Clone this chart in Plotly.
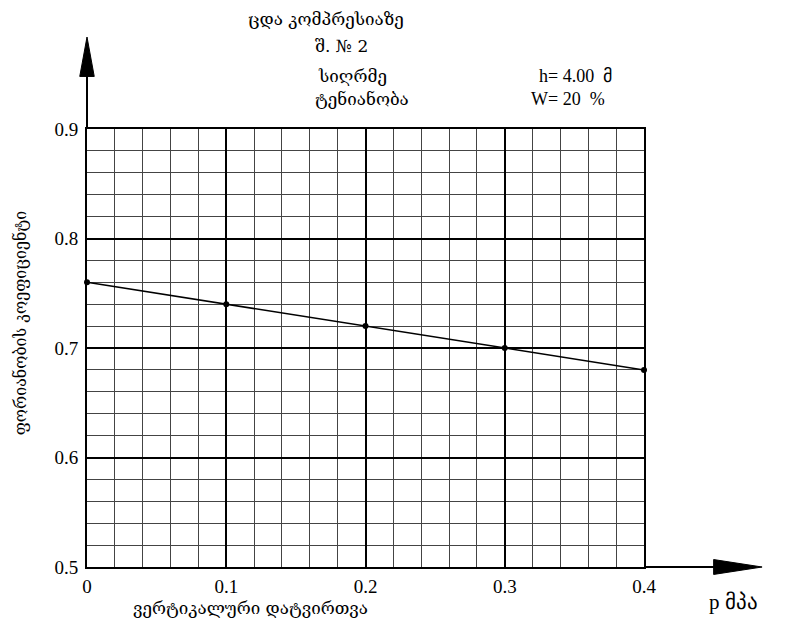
import plotly.graph_objects as go

# compression test: vertical load p (MPa) -> porosity coefficient e
load_mpa = [0.0, 0.1, 0.2, 0.3, 0.4]
porosity = [0.76, 0.74, 0.72, 0.70, 0.68]

x_ticks = [0, 0.1, 0.2, 0.3, 0.4]
x_tick_text = ["0", "0.1", "0.2", "0.3", "0.4"]
y_ticks = [0.5, 0.6, 0.7, 0.8, 0.9]
y_tick_text = ["0.5", "0.6", "0.7", "0.8", "0.9"]

TITLE = "ცდა კომპრესიაზე"
PIT = "შ. № 2"
DEPTH_LABEL, DEPTH_VAL = "სიღრმე", "h= 4.00  მ"
MOIST_LABEL, MOIST_VAL = "ტენიანობა", "W= 20  %"
Y_TITLE = "ფორიანობის კოეფიციენტი"
X_TITLE = "ვერტიკალური დატვირთვა"
X_UNIT = "p მპა"

SERIF = "Liberation Serif, Times New Roman, serif"
GEO = "DejaVu Serif, DejaVu Sans, serif"

fig = go.Figure()
fig.add_trace(go.Scatter(
    x=load_mpa, y=porosity, mode="lines+markers",
    line=dict(color="black", width=1.5),
    marker=dict(size=6, color="black"),
    cliponaxis=False, showlegend=False,
))

axis_common = dict(
    showgrid=True, gridcolor="black", gridwidth=2,
    showline=True, linecolor="black", linewidth=2, mirror=True,
    zeroline=False, ticks="",
    tickfont=dict(family=SERIF, size=19, color="black"),
    minor=dict(dtick=0.02, showgrid=True, gridcolor="#444", gridwidth=1),
)
fig.update_xaxes(range=[0, 0.4], tickvals=x_ticks, ticktext=x_tick_text,
                 ticklabelstandoff=1, **axis_common)
fig.update_yaxes(range=[0.5, 0.9], tickvals=y_ticks, ticktext=y_tick_text,
                 ticklabelstandoff=3, **axis_common)

# axis arrows (paper coords, beyond the plot area)
fig.add_shape(type="line", xref="paper", yref="paper", x0=0, y0=1, x1=0, y1=1.15,
              line=dict(color="black", width=2))
fig.add_shape(type="path", xref="paper", yref="paper",
              path="M -0.013 1.12 L 0 1.21 L 0.013 1.12 Z",
              fillcolor="black", line=dict(color="black", width=1))
fig.add_shape(type="line", xref="paper", yref="paper", x0=1, y0=0, x1=1.16, y1=0,
              line=dict(color="black", width=2))
fig.add_shape(type="path", xref="paper", yref="paper",
              path="M 1.125 -0.017 L 1.212 0 L 1.125 0.017 Z",
              fillcolor="black", line=dict(color="black", width=1))

def note(text, x, y, size, family=GEO, xanchor="left", **kw):
    fig.add_annotation(text=text, x=x, y=y, xref="paper", yref="paper",
                       showarrow=False, xanchor=xanchor, yanchor="middle",
                       font=dict(family=family, size=size, color="black"), **kw)

note(TITLE, 0.4286, 1.251, 17, xanchor="center")
note(PIT, 0.405, 1.189, 17)
note(DEPTH_LABEL, 0.412, 1.121, 17)
note(DEPTH_VAL, 0.808, 1.121, 18, family=SERIF)
note(MOIST_LABEL, 0.405, 1.068, 17)
note(MOIST_VAL, 0.793, 1.068, 18, family=SERIF)
note(Y_TITLE, -0.12, 0.557, 16, xanchor="center", textangle=-90)
note(X_TITLE, 0.294, -0.094, 17, xanchor="center")
note(X_UNIT, 1.113, -0.08, 21, family=SERIF)

# page body adds ~7px offset, so the figure is trimmed to fit the window
fig.update_layout(
    width=801, height=621, autosize=False,
    margin=dict(l=79, r=165, t=121, b=62),
    font=dict(family=SERIF, color="black"),
    plot_bgcolor="white", paper_bgcolor="white",
    showlegend=False,
)

fig.write_html("out.html")
